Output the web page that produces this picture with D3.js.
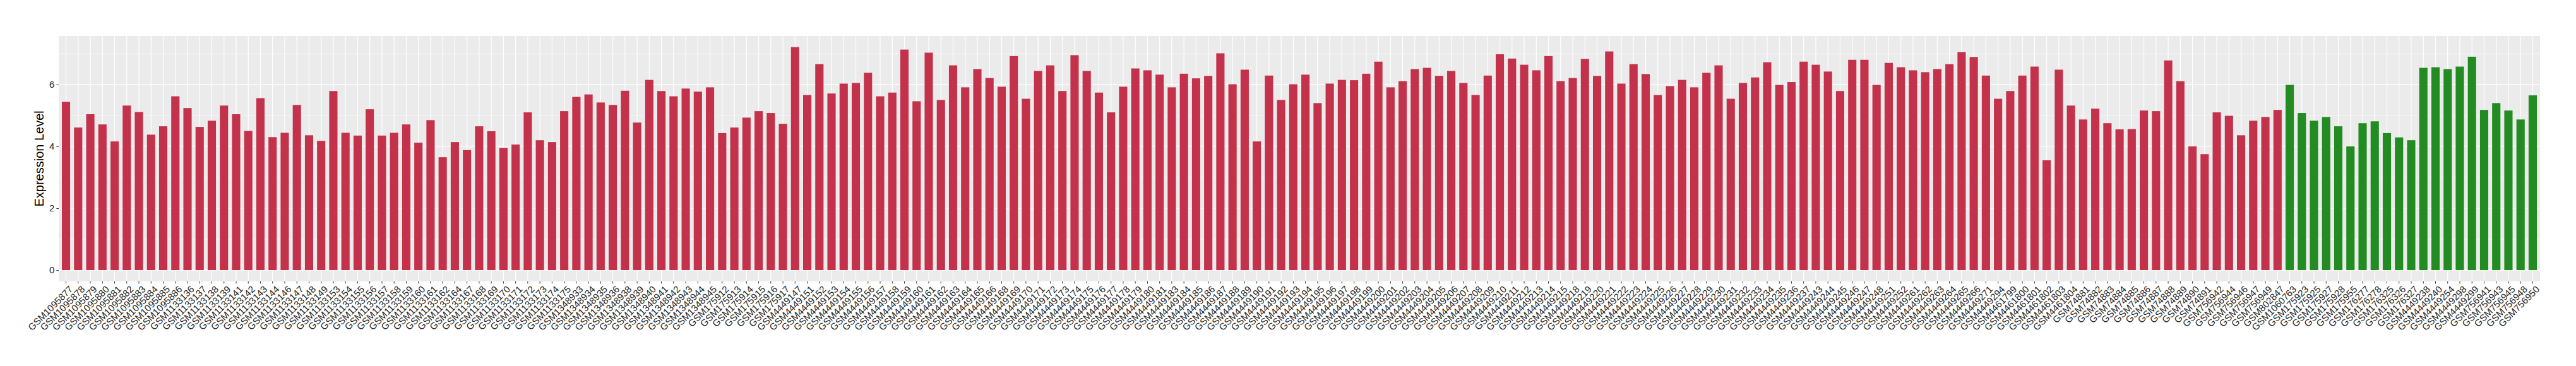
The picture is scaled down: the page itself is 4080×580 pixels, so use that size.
<!DOCTYPE html>
<html>
<head>
<meta charset="utf-8">
<script src="https://cdn.jsdelivr.net/npm/d3@7"></script>
<style>
  body { margin: 0; background: #fff; }
  text { font-family: "Liberation Sans", Arial, Helvetica, sans-serif; }
  .axis text { font-size: 15px; fill: #262626; }
  .axis line { stroke: #333333; }
  .axis path { display: none; }
</style>
</head>
<body>
<div id="chart"></div>
<script>

//////////////////////////////// Data ////////////////////////////////

// first group (red bars)
var samplesA = [
  "GSM1095877","GSM1095878","GSM1095879","GSM1095880","GSM1095881","GSM1095882","GSM1095883","GSM1095884","GSM1095885","GSM1095886",
  "GSM1133136","GSM1133137","GSM1133138","GSM1133139","GSM1133141","GSM1133142","GSM1133143","GSM1133144","GSM1133146","GSM1133147",
  "GSM1133148","GSM1133149","GSM1133153","GSM1133154","GSM1133155","GSM1133156","GSM1133157","GSM1133158","GSM1133159","GSM1133160",
  "GSM1133161","GSM1133162","GSM1133164","GSM1133167","GSM1133168","GSM1133169","GSM1133170","GSM1133171","GSM1133172","GSM1133173",
  "GSM1133174","GSM1133175",
  "GSM1348933","GSM1348934","GSM1348935","GSM1348936","GSM1348938","GSM1348939","GSM1348940","GSM1348941","GSM1348942","GSM1348943",
  "GSM1348944","GSM1348945",
  "GSM175912","GSM175913","GSM175914","GSM175915","GSM175916","GSM175917",
  "GSM4449147","GSM4449151","GSM4449152","GSM4449153","GSM4449154","GSM4449155","GSM4449156","GSM4449157","GSM4449158","GSM4449159",
  "GSM4449160","GSM4449161","GSM4449162","GSM4449163","GSM4449164","GSM4449165","GSM4449166","GSM4449168","GSM4449169","GSM4449170",
  "GSM4449171","GSM4449172","GSM4449173","GSM4449174","GSM4449175","GSM4449176","GSM4449177","GSM4449178","GSM4449179","GSM4449180",
  "GSM4449181","GSM4449183","GSM4449184","GSM4449185","GSM4449186","GSM4449187","GSM4449188","GSM4449189","GSM4449190","GSM4449191",
  "GSM4449192","GSM4449193","GSM4449194","GSM4449195","GSM4449196","GSM4449197","GSM4449198","GSM4449199","GSM4449200","GSM4449201",
  "GSM4449202","GSM4449203","GSM4449204","GSM4449205","GSM4449206","GSM4449207","GSM4449208","GSM4449209","GSM4449210","GSM4449211",
  "GSM4449212","GSM4449213","GSM4449214","GSM4449215","GSM4449218","GSM4449219","GSM4449220","GSM4449221","GSM4449222","GSM4449223",
  "GSM4449224","GSM4449225","GSM4449226","GSM4449227","GSM4449228","GSM4449229","GSM4449230","GSM4449231","GSM4449232","GSM4449233",
  "GSM4449234","GSM4449235","GSM4449236","GSM4449237","GSM4449243","GSM4449244","GSM4449245","GSM4449246","GSM4449247","GSM4449248",
  "GSM4449251","GSM4449252","GSM4449261","GSM4449262","GSM4449263","GSM4449264","GSM4449265","GSM4449266","GSM4449271","GSM4449294",
  "GSM4461799","GSM4461800","GSM4461801","GSM4461802","GSM4461803","GSM4461804",
  "GSM74881","GSM74882","GSM74883","GSM74884","GSM74885","GSM74886","GSM74887","GSM74888","GSM74889","GSM74890","GSM74891",
  "GSM756942","GSM756944","GSM756946","GSM756947","GSM756949",
  "GSM802847"
];
var valuesA = [
  5.44, 4.61, 5.04, 4.71, 4.16, 5.32, 5.11, 4.38, 4.65, 5.62,
  5.24, 4.63, 4.83, 5.32, 5.04, 4.50, 5.56, 4.30, 4.44, 5.34,
  4.36, 4.18, 5.79, 4.44, 4.35, 5.20, 4.35, 4.44, 4.71, 4.12,
  4.85, 3.65, 4.14, 3.88, 4.65, 4.49, 3.95, 4.06, 5.10, 4.20,
  4.14, 5.14,
  5.60, 5.68, 5.42, 5.34, 5.80, 4.77, 6.15, 5.79, 5.62, 5.87,
  5.77, 5.91,
  4.43, 4.61, 4.93, 5.14, 5.08, 4.73,
  7.21, 5.66, 6.66, 5.71, 6.03, 6.05, 6.38, 5.62, 5.74, 7.13,
  5.46, 7.03, 5.50, 6.62, 5.91, 6.50, 6.21, 5.93, 6.92, 5.54,
  6.44, 6.62, 5.79, 6.95, 6.44, 5.74, 5.10, 5.93, 6.52, 6.46,
  6.32, 5.91, 6.35, 6.20, 6.28, 7.01, 6.01, 6.48, 4.16, 6.29,
  5.50, 6.01, 6.32, 5.40, 6.03, 6.15, 6.14, 6.35, 6.74, 5.91,
  6.11, 6.50, 6.54, 6.28, 6.44, 6.05, 5.66, 6.29, 6.98, 6.84,
  6.64, 6.46, 6.92, 6.11, 6.21, 6.83, 6.28, 7.07, 6.03, 6.66,
  6.34, 5.66, 5.95, 6.15, 5.91, 6.38, 6.62, 5.54, 6.05, 6.23,
  6.72, 5.99, 6.08, 6.74, 6.64, 6.42, 5.79, 6.80, 6.80, 5.99,
  6.70, 6.56, 6.46, 6.40, 6.50, 6.66, 7.05, 6.89, 6.29, 5.54,
  5.79, 6.29, 6.58, 3.55, 6.48, 5.32,
  4.87, 5.22, 4.75, 4.55, 4.56, 5.16, 5.14, 6.78, 6.11, 4.00, 3.75,
  5.10, 4.99, 4.36, 4.83, 4.95,
  5.18
];

// second group (green bars)
var samplesB = [
  "GSM1060763","GSM175923","GSM175925","GSM175927","GSM175928","GSM175955","GSM176277","GSM176278",
  "GSM176325","GSM176326","GSM176327","GSM4449238","GSM4449240","GSM4449254","GSM4449298","GSM4449299",
  "GSM756941","GSM756943","GSM756945","GSM756948","GSM756950"
];
var valuesB = [
  5.99, 5.08, 4.83, 4.95, 4.65, 4.00, 4.75, 4.81,
  4.43, 4.29, 4.20, 6.54, 6.56, 6.50, 6.58, 6.90,
  5.18, 5.40, 5.16, 4.87, 5.65
];

var yTicks = [0, 2, 4, 6];
var yMinorTicks = [1, 3, 5, 7];
var colorA = "#C3314A";
var colorB = "#228B22";

//////////////////////////////// Setup ////////////////////////////////

var bars = samplesA.map(function(s, i) { return {sample: s, value: valuesA[i], color: colorA}; })
  .concat(samplesB.map(function(s, i) { return {sample: s, value: valuesB[i], color: colorB}; }));

var totalWidth = 4080;
var totalHeight = 580;
var margin = {top: 57, right: 57, bottom: 134.3, left: 93};
var width = totalWidth - margin.left - margin.right;
var height = totalHeight - margin.top - margin.bottom;

var svg = d3.select("#chart")
  .append("svg")
  .attr("width", totalWidth)
  .attr("height", totalHeight);

var g = svg.append("g")
  .attr("transform", "translate(" + margin.left + "," + margin.top + ")");

var yMax = d3.max(bars, function(d) { return d.value; });

var x = d3.scaleBand()
  .domain(bars.map(function(d) { return d.sample; }))
  .range([0, width])
  .paddingInner(0.32)
  .paddingOuter(0.26);

var y = d3.scaleLinear()
  .domain([-0.05 * yMax, 1.05 * yMax])
  .range([height, 0]);

//////////////////////////////// Panel + grid ////////////////////////////////

g.append("rect")
  .attr("width", width)
  .attr("height", height)
  .style("fill", "#EBEBEB");

g.selectAll(".grid-minor")
  .data(yMinorTicks)
  .enter().append("line")
  .attr("class", "grid-minor")
  .attr("x1", 0).attr("x2", width)
  .attr("y1", function(d) { return y(d); })
  .attr("y2", function(d) { return y(d); })
  .style("stroke", "#fff")
  .style("stroke-width", 0.6);

g.selectAll(".grid-major-y")
  .data(yTicks)
  .enter().append("line")
  .attr("class", "grid-major-y")
  .attr("x1", 0).attr("x2", width)
  .attr("y1", function(d) { return y(d); })
  .attr("y2", function(d) { return y(d); })
  .style("stroke", "#fff")
  .style("stroke-width", 1.2);

g.selectAll(".grid-major-x")
  .data(bars)
  .enter().append("line")
  .attr("class", "grid-major-x")
  .attr("x1", function(d) { return x(d.sample) + x.bandwidth() / 2; })
  .attr("x2", function(d) { return x(d.sample) + x.bandwidth() / 2; })
  .attr("y1", 0).attr("y2", height)
  .style("stroke", "#fff")
  .style("stroke-width", 1.2);

//////////////////////////////// Bars ////////////////////////////////

g.selectAll(".bar")
  .data(bars)
  .enter().append("rect")
  .attr("class", "bar")
  .attr("x", function(d) { return x(d.sample); })
  .attr("width", x.bandwidth())
  .attr("y", function(d) { return y(d.value); })
  .attr("height", function(d) { return y(0) - y(d.value); })
  .style("fill", function(d) { return d.color; });

//////////////////////////////// Axes ////////////////////////////////

g.append("g")
  .attr("class", "axis y-axis")
  .call(d3.axisLeft(y).tickValues(yTicks).tickSize(3.7).tickPadding(3));

var xAxis = g.append("g")
  .attr("class", "axis x-axis")
  .attr("transform", "translate(0," + height + ")")
  .call(d3.axisBottom(x).tickSize(3.7));

xAxis.selectAll("text")
  .attr("x", 0)
  .attr("y", 0)
  .attr("dy", "0.72em")
  .attr("text-anchor", "end")
  .attr("transform", "translate(4,6) rotate(-45)");

svg.append("text")
  .attr("transform", "translate(69," + (margin.top + height / 2) + ") rotate(-90)")
  .attr("text-anchor", "middle")
  .style("font-size", "20px")
  .style("fill", "#000")
  .text("Expression Level");

</script>
</body>
</html>
